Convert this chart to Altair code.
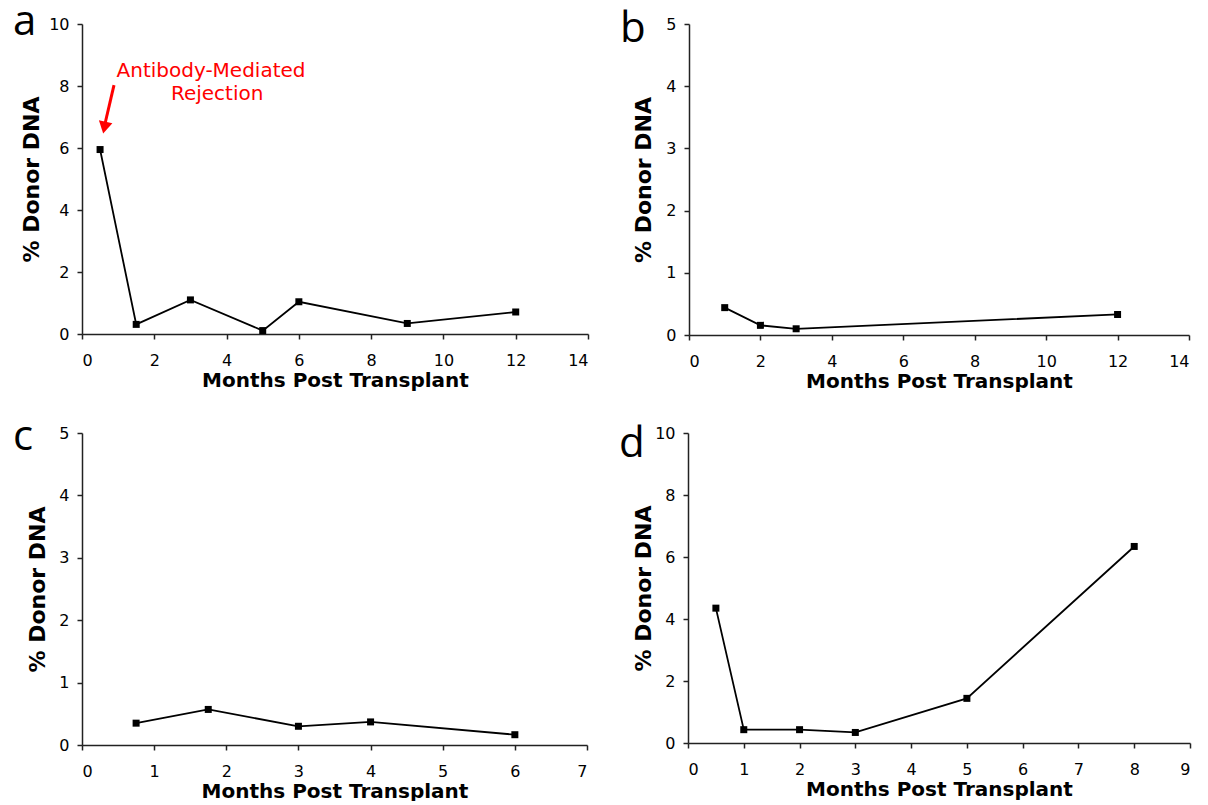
import altair as alt
import pandas as pd

# ---- data ----
a_months = [0.5, 1.5, 3, 5, 6, 9, 12]
a_donor = [5.95, 0.31, 1.10, 0.11, 1.04, 0.34, 0.71]

b_months = [1, 2, 3, 12]
b_donor = [0.44, 0.155, 0.10, 0.33]

c_months = [0.75, 1.75, 3, 4, 6]
c_donor = [0.35, 0.57, 0.30, 0.37, 0.165]

d_months = [0.5, 1, 2, 3, 5, 8]
d_donor = [4.35, 0.43, 0.43, 0.34, 1.44, 6.34]

# annotation (panel a), in data units
annot_text = ["Antibody-Mediated", "Rejection"]
annot_x = [3.57, 3.74]
annot_y = [8.29, 7.55]
arrow_x = [0.885]
arrow_y = [8.03]
arrow_x2 = [0.63]
arrow_y2 = [6.75]
arrow_head_x = [0.62]
arrow_head_y = [6.66]

LABEL_FONT = "DejaVu Sans"


def panel(months, donor, xmax, xstep, ymax, ystep, w, h, letter, letter_dy, title_x, extra=None):
    df = pd.DataFrame({"Months": months, "Donor": donor})
    xenc = alt.X(
        "Months:Q",
        scale=alt.Scale(domain=[0, xmax], nice=False, zero=True),
        axis=alt.Axis(
            values=list(range(0, xmax + 1, xstep)),
            format="d",
            title="Months Post Transplant",
            titleY=36,
            titleBaseline="top",
            titleFontSize=20,
        ),
    )
    yenc = alt.Y(
        "Donor:Q",
        scale=alt.Scale(domain=[0, ymax], nice=False, zero=True),
        axis=alt.Axis(
            values=list(range(0, ymax + 1, ystep)),
            format="d",
            title="% Donor DNA",
            titleX=title_x,
            titleBaseline="middle",
            titleFontSize=22,
        ),
    )
    base = alt.Chart(df)
    line = base.mark_line(color="black", strokeWidth=1.8).encode(x=xenc, y=yenc)
    pts = base.mark_square(color="black", size=49, opacity=1).encode(x=xenc, y=yenc)
    lab = alt.Chart(pd.DataFrame({"t": [letter]})).mark_text(
        font="Open Sans", fontSize=42, align="left", baseline="alphabetic", color="black"
    ).encode(text="t:N", x=alt.value(-69), y=alt.value(letter_dy))
    layers = [line, pts, lab]
    if extra:
        layers += extra
    return alt.layer(*layers).properties(width=w, height=h)


# annotation layers for panel a
ann_df = pd.DataFrame({"x": annot_x, "y": annot_y, "t": annot_text})
ann = alt.Chart(ann_df).mark_text(
    font=LABEL_FONT, fontSize=20, color="#ff0000", align="center", baseline="alphabetic"
).encode(x="x:Q", y="y:Q", text="t:N")
arr_df = pd.DataFrame({"x": arrow_x, "y": arrow_y, "x2": arrow_x2, "y2": arrow_y2})
arr = alt.Chart(arr_df).mark_rule(color="#ff0000", strokeWidth=3).encode(
    x="x:Q", y="y:Q", x2="x2:Q", y2="y2:Q"
)
head_df = pd.DataFrame({"x": arrow_head_x, "y": arrow_head_y})
head = alt.Chart(head_df).mark_point(
    shape="triangle-up", filled=True, color="#ff0000", size=190, angle=192, opacity=1
).encode(x="x:Q", y="y:Q")

pa = panel(a_months, a_donor, 14, 2, 10, 2, 506, 310, "a", 11, -51, extra=[arr, head, ann])
pb = panel(b_months, b_donor, 14, 2, 5, 1, 500, 311, "b", 18, -46)
pc = panel(c_months, c_donor, 7, 1, 5, 1, 505, 312, "c", 17, -45)
pd_ = panel(d_months, d_donor, 9, 1, 10, 2, 502, 310, "d", 24, -45)

row1 = alt.hconcat(pa, pb, spacing=31)
row2 = alt.hconcat(pc, pd_, spacing=31)

chart = (
    alt.vconcat(row1, row2, spacing=25)
    .configure_view(stroke=None)
    .configure_axis(
        grid=False,
        domainColor="#222222",
        domainWidth=1.5,
        tickColor="#222222",
        tickWidth=1.5,
        tickSize=5,
        labelColor="black",
        labelFont=LABEL_FONT,
        labelFontSize=16,
        titleColor="black",
        titleFont=LABEL_FONT,
        titleFontWeight="bold",
    )
    .configure_axisX(labelPadding=13)
    .configure_axisY(labelPadding=8)
    .properties(background="white", padding={"left": 5, "top": -7, "right": 5, "bottom": 0})
)

chart.save("out.html", embed_options={"renderer": "svg", "actions": False})
